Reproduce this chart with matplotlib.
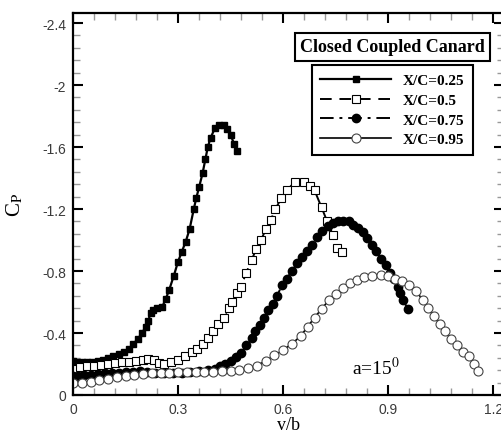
"""Spanwise Cp distributions, closed coupled canard, a=15 deg."""

import matplotlib
matplotlib.use("Agg")
import matplotlib.pyplot as plt
from matplotlib.ticker import MultipleLocator

plt.rcParams["mathtext.fontset"] = "stix"

# X/C = 0.25
v_025 = [0.000, 0.012, 0.025, 0.040, 0.055, 0.070, 0.085, 0.100, 0.115, 0.130,
         0.145, 0.160, 0.172, 0.185, 0.197, 0.208, 0.215, 0.222, 0.228, 0.240,
         0.255, 0.265, 0.275, 0.288, 0.300, 0.310, 0.322, 0.333, 0.345, 0.352,
         0.360, 0.370, 0.378, 0.385, 0.393, 0.405, 0.418, 0.430, 0.440, 0.450,
         0.460, 0.469]
cp_025 = [0.220, 0.215, 0.213, 0.212, 0.215, 0.220, 0.228, 0.238, 0.250, 0.262,
          0.280, 0.300, 0.330, 0.360, 0.400, 0.440, 0.480, 0.530, 0.550, 0.560,
          0.570, 0.620, 0.680, 0.770, 0.860, 0.920, 0.990, 1.070, 1.200, 1.270,
          1.340, 1.430, 1.520, 1.600, 1.660, 1.720, 1.745, 1.740, 1.715, 1.680,
          1.620, 1.575]

# X/C = 0.5
v_05 = [0.000, 0.020, 0.040, 0.060, 0.080, 0.100, 0.120, 0.140, 0.160, 0.180,
        0.200, 0.215, 0.230, 0.245, 0.260, 0.280, 0.300, 0.320, 0.340, 0.355,
        0.370, 0.385, 0.400, 0.415, 0.430, 0.445, 0.455, 0.468, 0.480, 0.495,
        0.510, 0.523, 0.537, 0.551, 0.565, 0.578, 0.595, 0.610, 0.634, 0.660,
        0.677, 0.690, 0.710, 0.726, 0.743, 0.755, 0.768]
cp_05 = [0.170, 0.180, 0.185, 0.190, 0.195, 0.200, 0.205, 0.210, 0.215, 0.220,
         0.225, 0.230, 0.225, 0.205, 0.200, 0.210, 0.225, 0.250, 0.280, 0.300,
         0.330, 0.370, 0.410, 0.460, 0.500, 0.560, 0.600, 0.660, 0.700, 0.790,
         0.870, 0.940, 1.000, 1.070, 1.130, 1.200, 1.270, 1.320, 1.375, 1.375,
         1.350, 1.320, 1.210, 1.120, 1.030, 0.950, 0.920]

# X/C = 0.75
v_075 = [0.000, 0.015, 0.030, 0.050, 0.070, 0.090, 0.110, 0.130, 0.150, 0.170,
         0.190, 0.210, 0.235, 0.260, 0.285, 0.310, 0.335, 0.360, 0.385, 0.405,
         0.420, 0.435, 0.450, 0.465, 0.480, 0.495, 0.510, 0.520, 0.533, 0.545,
         0.558, 0.570, 0.583, 0.597, 0.610, 0.625, 0.640, 0.655, 0.668, 0.683,
         0.698, 0.712, 0.727, 0.742, 0.757, 0.772, 0.787, 0.800, 0.813, 0.827,
         0.840, 0.853, 0.866, 0.880, 0.893, 0.906, 0.917, 0.928, 0.935, 0.943,
         0.957]
cp_075 = [0.120, 0.125, 0.130, 0.130, 0.135, 0.140, 0.140, 0.145, 0.150, 0.150,
          0.155, 0.150, 0.145, 0.140, 0.140, 0.145, 0.150, 0.155, 0.160, 0.170,
          0.190, 0.200, 0.220, 0.245, 0.270, 0.320, 0.370, 0.410, 0.450, 0.500,
          0.550, 0.590, 0.640, 0.710, 0.750, 0.800, 0.850, 0.890, 0.930, 0.970,
          1.020, 1.060, 1.090, 1.110, 1.120, 1.125, 1.120, 1.100, 1.080, 1.050,
          1.010, 0.970, 0.930, 0.880, 0.840, 0.790, 0.750, 0.700, 0.660, 0.610,
          0.555]

# X/C = 0.95
v_095 = [0.000, 0.025, 0.050, 0.075, 0.100, 0.125, 0.150, 0.175, 0.200, 0.225,
         0.250, 0.275, 0.300, 0.325, 0.350, 0.375, 0.400, 0.425, 0.450, 0.475,
         0.500, 0.525, 0.550, 0.575, 0.600, 0.625, 0.650, 0.670, 0.690, 0.710,
         0.730, 0.750, 0.770, 0.790, 0.810, 0.830, 0.855, 0.880, 0.900, 0.920,
         0.940, 0.960, 0.980, 1.000, 1.015, 1.030, 1.047, 1.063, 1.080, 1.097,
         1.113, 1.130, 1.145, 1.157]
cp_095 = [0.075, 0.075, 0.085, 0.095, 0.105, 0.115, 0.120, 0.130, 0.135, 0.140,
          0.145, 0.145, 0.150, 0.150, 0.150, 0.150, 0.150, 0.155, 0.155, 0.160,
          0.175, 0.190, 0.220, 0.255, 0.290, 0.330, 0.380, 0.440, 0.500, 0.555,
          0.610, 0.650, 0.690, 0.720, 0.745, 0.760, 0.770, 0.775, 0.765, 0.750,
          0.735, 0.710, 0.670, 0.610, 0.560, 0.510, 0.460, 0.410, 0.360, 0.320,
          0.280, 0.250, 0.200, 0.155]

labels = ["X/C=0.25", "X/C=0.5", "X/C=0.75", "X/C=0.95"]


def main():
    fig = plt.figure(figsize=(5.02, 4.35), dpi=100)
    ax = fig.add_axes([73 / 502, 39 / 435, 431 / 502, 382 / 435])

    ax.plot(v_025, [-c for c in cp_025], color="black", lw=1.6, ls="-",
            marker="s", ms=4, mfc="black", mec="black", label=labels[0])
    ax.plot(v_05, [-c for c in cp_05], color="black", lw=1.4, ls=(0, (6, 4)),
            marker="s", ms=5.5, mfc="white", mec="black", mew=0.8, label=labels[1])
    ax.plot(v_075, [-c for c in cp_075], color="black", lw=1.4,
            ls=(0, (7, 3, 1.5, 3)), marker="o", ms=6, mfc="black", mec="black",
            label=labels[2])
    ax.plot(v_095, [-c for c in cp_095], color="black", lw=1.2, ls="-",
            marker="o", ms=6.5, mfc="white", mec="#444444", mew=0.8, label=labels[3])

    ax.set_xlim(0, 1.231)
    ax.set_ylim(0, -2.465)
    ax.xaxis.set_minor_locator(MultipleLocator(0.06))
    ax.yaxis.set_minor_locator(MultipleLocator(0.08))
    ax.set_xticks([0, 0.3, 0.6, 0.9, 1.2])
    ax.set_xticklabels(["0", "0.3", "0.6", "0.9", "1.2"])
    ax.set_yticks([0, -0.4, -0.8, -1.2, -1.6, -2, -2.4])
    ax.set_yticklabels(["0", "-0.4", "-0.8", "-1.2", "-1.6", "-2", "-2.4"])

    ax.tick_params(which="both", direction="in", top=True, right=True)
    ax.tick_params(which="major", length=7, width=1.5, color="black",
                   labelsize=10, labelcolor="#3a3a3a", pad=5)
    ax.tick_params(which="minor", length=5, width=1.0, color="#999999")
    for lab in ax.get_xticklabels() + ax.get_yticklabels():
        lab.set_family(["Liberation Sans", "DejaVu Sans"])
    for s in ax.spines.values():
        s.set_linewidth(1.6)

    ax.set_xlabel("v/b", family="Liberation Serif", fontsize=13, labelpad=0)
    ax.set_ylabel(r"C$_\mathrm{P}$", family="Liberation Serif", fontsize=15,
                  labelpad=12)

    ax.text(0.647, 0.055, r"a=15$^0$", transform=ax.transAxes,
            family="Liberation Serif", fontsize=14)

    ax.text(0.956, 0.912, "Closed Coupled Canard", transform=ax.transAxes,
            ha="right", va="center", family="Liberation Serif",
            fontweight="bold", fontsize=13,
            bbox=dict(boxstyle="square,pad=0.3", fc="white", ec="black", lw=1.5))

    leg = ax.legend(loc="upper left", bbox_to_anchor=(0.5545, 0.864),
                    borderaxespad=0, frameon=True, fancybox=False,
                    edgecolor="black", framealpha=1, numpoints=1,
                    handlelength=4.6, handletextpad=0.8, labelspacing=0.4,
                    borderpad=0.55,
                    prop={"family": "Liberation Serif", "weight": "bold",
                          "size": 11})
    leg.get_frame().set_linewidth(1.5)

    fig.savefig("out.png", dpi=100)


if __name__ == "__main__":
    main()
